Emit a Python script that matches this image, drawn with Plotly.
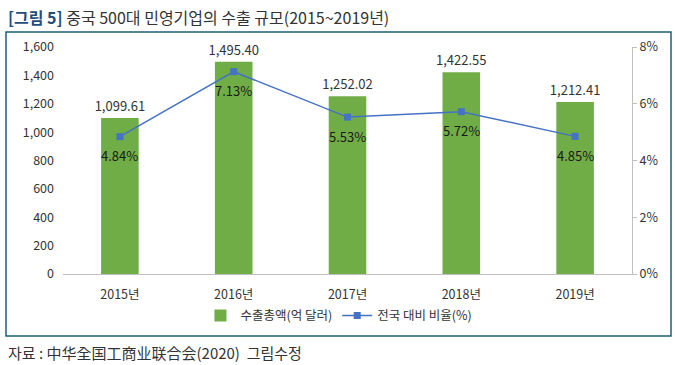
import plotly.graph_objects as go

years = ["2015년", "2016년", "2017년", "2018년", "2019년"]
export_total = [1099.61, 1495.40, 1252.02, 1422.55, 1212.41]
ratio_pct = [4.84, 7.13, 5.53, 5.72, 4.85]
left_ticks = [0, 200, 400, 600, 800, 1000, 1200, 1400, 1600]
right_ticks = [0, 2, 4, 6, 8]

FONT = "Noto Sans CJK KR, Noto Sans, sans-serif"

fig = go.Figure()
fig.add_trace(go.Bar(
    x=years, y=export_total, name="수출총액(억 달러)",
    marker=dict(color="#70AD47", line=dict(width=0)),
    width=0.33,
    text=[f"{v:,.2f}" for v in export_total],
    textposition="outside", cliponaxis=False, constraintext="none",
    textfont=dict(size=13, color="#333333", family=FONT),
))
fig.add_trace(go.Scatter(
    x=years, y=ratio_pct, name="전국 대비 비율(%)", yaxis="y2",
    mode="lines+markers",
    line=dict(color="#4472C4", width=1.5),
    marker=dict(symbol="square", size=7, color="#4472C4"),
    cliponaxis=False,
))
for yr, v in zip(years, ratio_pct):
    fig.add_annotation(x=yr, y=v, xref="x", yref="y2", yshift=-19,
                       text=f"{v:.2f}%", showarrow=False,
                       font=dict(size=13, color="#1a1a1a", family=FONT))

fig.update_layout(
    width=675, height=365,
    margin=dict(l=63, r=43, t=47, b=91),
    paper_bgcolor="white", plot_bgcolor="white",
    font=dict(family=FONT, size=12, color="#333333"),
    showlegend=True,
    legend=dict(orientation="h", x=0.485, xanchor="center", y=-0.185, yanchor="middle",
                font=dict(size=12.5, color="#333333", family=FONT),
                itemwidth=30, traceorder="normal"),
    xaxis=dict(showline=True, linecolor="#BFBFBF", linewidth=1, ticks="",
               tickfont=dict(size=12.5, color="#333333"), showgrid=False, automargin=False,
               ticklabelstandoff=9),
    yaxis=dict(range=[0, 1600], tickvals=left_ticks, tickformat=",",
               showgrid=False, zeroline=False, showline=False, ticks="",
               tickfont=dict(size=12.5, color="#333333"), automargin=False,
               ticklabelstandoff=8),
    yaxis2=dict(range=[0, 8], tickvals=right_ticks, ticktext=[f"{t}%" for t in right_ticks],
                overlaying="y", side="right", showgrid=False, zeroline=False,
                showline=True, linecolor="#BFBFBF", linewidth=1,
                ticks="outside", ticklen=4, tickcolor="#BFBFBF",
                tickfont=dict(size=12.5, color="#333333"), automargin=False),
)

# Title
fig.add_annotation(
    xref="paper", yref="paper", x=(6 - 63) / 569, y=1.0 + (47 - 17) / 227, xanchor="left", yanchor="middle",
    text="<span style='color:#1F4E79'><b>[그림 5]</b></span> 중국 500대 민영기업의 수출 규모(2015~2019년)",
    showarrow=False, font=dict(size=16, color="#333333", family=FONT),
)
# Source
fig.add_annotation(
    xref="paper", yref="paper", x=(6 - 63) / 569, y=(274 - 352) / 227, xanchor="left", yanchor="middle",
    text="자료 : 中华全国工商业联合会(2020)  그림수정",
    showarrow=False, font=dict(size=15, color="#333333", family=FONT),
)
# Border box
x0 = (6 - 63) / 569
x1 = (671 - 63) / 569
y0 = (274 - 336) / 227
y1 = (274 - 32) / 227
fig.add_shape(type="rect", xref="paper", yref="paper", x0=x0, x1=x1, y0=y0, y1=y1,
              line=dict(color="#1F5C78", width=1.5), fillcolor="rgba(0,0,0,0)", layer="below")

fig.write_html("out.html", config={"displayModeBar": False},
               post_script="document.body.style.margin='0';document.body.style.padding='0';")
